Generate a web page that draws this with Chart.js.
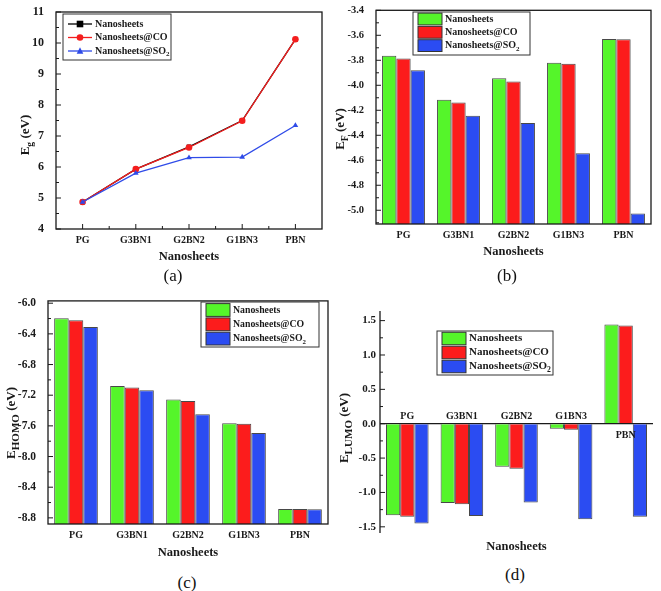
<!DOCTYPE html>
<html>
<head>
<meta charset="utf-8">
<script src="https://cdn.jsdelivr.net/npm/chart.js@4.4.1/dist/chart.umd.min.js"></script>
<style>
  body { margin: 0; background: #fff; width: 661px; height: 591px; position: relative; overflow: hidden; }
  .panel { position: absolute; }
  .cap { position: absolute; font: 17px "Liberation Serif", serif; color: #111; transform: translate(-50%, -50%); }
</style>
</head>
<body>
<div class="panel" style="left:0;top:0;width:330px;height:268px"><canvas id="chartA"></canvas></div>
<div class="panel" style="left:330px;top:0;width:331px;height:268px"><canvas id="chartB"></canvas></div>
<div class="panel" style="left:0;top:290px;width:330px;height:280px"><canvas id="chartC"></canvas></div>
<div class="panel" style="left:330px;top:290px;width:331px;height:270px"><canvas id="chartD"></canvas></div>
<div class="cap" style="left:173px;top:276px">(a)</div>
<div class="cap" style="left:507px;top:276px">(b)</div>
<div class="cap" style="left:187px;top:583px">(c)</div>
<div class="cap" style="left:515px;top:575px">(d)</div>

<script>
// ---- data ----
const categories = ['PG', 'G3BN1', 'G2BN2', 'G1BN3', 'PBN'];
const seriesNames = ['Nanosheets', 'Nanosheets@CO', 'Nanosheets@SO_{2}'];

// (a) band gap
const egPure = [4.87, 5.93, 6.65, 7.50, 10.12];
const egCO   = [4.87, 5.93, 6.63, 7.49, 10.12];
const egSO2  = [4.87, 5.80, 6.30, 6.32, 7.34];
const egTicks = [4, 5, 6, 7, 8, 9, 10, 11];
const egRange = [4, 11];

// (b) Fermi level
const efPure = [-3.764, -4.115, -3.943, -3.820, -3.629];
const efCO   = [-3.786, -4.137, -3.969, -3.828, -3.631];
const efSO2  = [-3.879, -4.243, -4.302, -4.544, -5.025];
const efTicks = [-5.0, -4.8, -4.6, -4.4, -4.2, -4.0, -3.8, -3.6, -3.4];
const efRange = [-5.11, -3.4];

// (c) HOMO
const homoPure = [-6.196, -7.081, -7.255, -7.566, -8.685];
const homoCO   = [-6.221, -7.098, -7.277, -7.574, -8.685];
const homoSO2  = [-6.311, -7.136, -7.447, -7.694, -8.689];
const homoTicks = [-8.8, -8.4, -8.0, -7.6, -7.2, -6.8, -6.4, -6.0];
const homoRange = [-8.88, -5.97];

// (d) LUMO
const lumoPure = [-1.332, -1.153, -0.625, -0.073, 1.444];
const lumoCO   = [-1.352, -1.172, -0.654, -0.087, 1.429];
const lumoSO2  = [-1.453, -1.342, -1.148, -1.390, -1.352];
const lumoTicks = [-1.5, -1.0, -0.5, 0.0, 0.5, 1.0, 1.5];
const lumoRange = [-1.59, 1.64];

const FONT = '"Liberation Serif", "Times New Roman", serif';
const barColors = ['#55f52a', '#fc1c1c', '#2b4cf2'];
const lineColors = ['#000000', '#f41e1e', '#2f4be8'];
const INK = '#1a1a1a';

// text with _{sub} parts
function richParts(str) {
    const parts = []; const re = /_\{([^}]*)\}/g; let last = 0, m;
    while ((m = re.exec(str))) {
        if (m.index > last) parts.push([str.slice(last, m.index), false]);
        parts.push([m[1], true]);
        last = re.lastIndex;
    }
    if (last < str.length) parts.push([str.slice(last), false]);
    return parts;
}
function drawRich(ctx, str, x, y, size, sub, center) {
    const parts = richParts(str);
    const fonts = parts.map(p => `bold ${p[1] ? size * sub : size}px ${FONT}`);
    let w = 0;
    parts.forEach((p, i) => { ctx.font = fonts[i]; w += ctx.measureText(p[0]).width; });
    let cx = center ? x - w / 2 : x;
    ctx.textBaseline = 'middle'; ctx.textAlign = 'left'; ctx.fillStyle = INK;
    parts.forEach((p, i) => {
        ctx.font = fonts[i];
        ctx.fillText(p[0], cx, y + (p[1] ? size * 0.32 : 0));
        cx += ctx.measureText(p[0]).width;
    });
}

// Origin-like frame, inward ticks, titles and in-plot legend
function decor(cfg) {
    return {
        id: 'decor',
        afterDraw(chart) {
            const ctx = chart.ctx, a = chart.chartArea, ys = chart.scales.y, xs = chart.scales.x;
            ctx.save();
            ctx.strokeStyle = INK; ctx.lineWidth = 1.3;
            const seg = (x1, y1, x2, y2) => { ctx.beginPath(); ctx.moveTo(x1, y1); ctx.lineTo(x2, y2); ctx.stroke(); };
            if (cfg.box) ctx.strokeRect(a.left, a.top, a.right - a.left, a.bottom - a.top);
            else seg(a.left, a.top, a.left, a.bottom);

            // y ticks (major + minor), pointing into the plot
            ctx.lineWidth = 1;
            const tv = ys.ticks.map(t => t.value);
            const step = tv[1] - tv[0];
            tv.forEach(v => { const p = ys.getPixelForValue(v); seg(a.left, p, a.left + 5, p); });
            for (let v = tv[0] - step / 2; v <= ys.max + 1e-9; v += step) {
                if (v < ys.min) continue;
                const p = ys.getPixelForValue(v); seg(a.left, p, a.left + 3, p);
            }
            if (cfg.xTicks) {
                categories.forEach((c, i) => {
                    const p = xs.getPixelForValue(i); seg(p, a.bottom, p, a.bottom - 5);
                    if (i < categories.length - 1) {
                        const q = xs.getPixelForValue(i + 0.5); seg(q, a.bottom, q, a.bottom - 3);
                    }
                });
            }

            // category labels sitting on the zero line (panel d)
            if (cfg.zeroLabels) {
                const z = ys.getPixelForValue(0);
                ctx.font = `bold ${cfg.catSize}px ${FONT}`;
                ctx.textAlign = 'center'; ctx.textBaseline = 'middle'; ctx.fillStyle = INK;
                categories.forEach((c, i) => {
                    const up = cfg.zeroLabels[i] < 0;
                    ctx.fillText(c, xs.getPixelForValue(i), up ? z - 7 : z + 12);
                });
            }

            // axis titles
            drawRich(ctx, 'Nanosheets', (a.left + a.right) / 2, cfg.xTitleY, 12.5, 1, true);
            ctx.save();
            ctx.translate(cfg.yTitle.x, cfg.yTitle.y);
            ctx.rotate(-Math.PI / 2);
            drawRich(ctx, cfg.yTitle.text, 0, 0, 13, cfg.yTitle.sub, true);
            ctx.restore();

            // legend
            const L = cfg.legend;
            ctx.fillStyle = '#fff';
            ctx.fillRect(L.x, L.y, L.w, L.h);
            ctx.strokeStyle = '#333'; ctx.lineWidth = 1;
            ctx.strokeRect(L.x, L.y, L.w, L.h);
            chart.data.datasets.forEach((ds, i) => {
                const ry = L.row0 + i * L.step;
                const sx = L.x + 5, sw = 24;
                if (L.kind === 'line') {
                    ctx.strokeStyle = ds.borderColor; ctx.lineWidth = 1.3;
                    seg(sx, ry, sx + sw, ry);
                    ctx.fillStyle = ds.borderColor;
                    const mx = sx + sw / 2, r = 3.3;
                    ctx.beginPath();
                    if (ds.pointStyle === 'rect') ctx.rect(mx - r, ry - r, 2 * r, 2 * r);
                    else if (ds.pointStyle === 'triangle') { ctx.moveTo(mx, ry - r - 0.5); ctx.lineTo(mx + r, ry + r - 0.5); ctx.lineTo(mx - r, ry + r - 0.5); ctx.closePath(); }
                    else ctx.arc(mx, ry, r, 0, Math.PI * 2);
                    ctx.fill();
                } else {
                    const sh = L.step - 1.5;
                    ctx.fillStyle = ds.backgroundColor;
                    ctx.fillRect(sx, ry - sh / 2, sw, sh);
                    ctx.strokeStyle = '#333'; ctx.lineWidth = 1;
                    ctx.strokeRect(sx, ry - sh / 2, sw, sh);
                }
                drawRich(ctx, ds.label, sx + sw + 3, ry, L.size, 0.7, false);
            });
            ctx.restore();
        }
    };
}

function yAxis(range, ticks, width, size, digits, grid) {
    return {
        type: 'linear', min: range[0], max: range[1],
        afterBuildTicks: s => { s.ticks = ticks.map(v => ({ value: v })); },
        afterFit: s => { s.width = width; },
        border: { display: false },
        grid: grid || { display: false },
        ticks: {
            padding: 4, color: INK,
            font: { family: FONT, size: size, weight: 'bold' },
            callback: v => v.toFixed(digits)
        }
    };
}
function xAxis(height, showTicks) {
    return {
        type: 'category', offset: true,
        afterFit: s => { s.height = height; },
        border: { display: false },
        grid: { display: false, drawTicks: false },
        ticks: {
            display: showTicks, padding: 5, color: INK, autoSkip: false, maxRotation: 0,
            font: { family: FONT, size: 10, weight: 'bold' }
        }
    };
}
function barSets(a, b, c, base) {
    return [a, b, c].map((d, i) => ({
        label: seriesNames[i], data: d,
        backgroundColor: barColors[i], borderColor: 'rgba(40,40,40,0.85)', borderWidth: 1,
        base: base, categoryPercentage: 0.78, barPercentage: 1.0
    }));
}
const common = { responsive: true, maintainAspectRatio: false, animation: false,
                 plugins: { legend: { display: false }, tooltip: { enabled: false } } };

// ===== (a) band gap lines =====
new Chart(document.getElementById('chartA'), {
    type: 'line',
    data: {
        labels: categories,
        datasets: [egPure, egCO, egSO2].map((d, i) => ({
            label: seriesNames[i], data: d,
            borderColor: lineColors[i], backgroundColor: lineColors[i],
            borderWidth: 1.3, pointRadius: 3.3, pointBorderWidth: 0,
            pointStyle: ['rect', 'circle', 'triangle'][i],
            order: 3 - i, tension: 0
        }))
    },
    options: Object.assign({}, common, {
        layout: { padding: { left: 0, right: 8, top: 12, bottom: 0 } },
        scales: { x: xAxis(39, true), y: yAxis(egRange, egTicks, 56, 12, 0) }
    }),
    plugins: [decor({
        box: true, xTicks: true, xTitleY: 257,
        yTitle: { text: 'E_{g} (eV)', x: 26, y: 135, sub: 0.75 },
        legend: { kind: 'line', x: 63, y: 14, w: 108, h: 46, row0: 24, step: 13.5, size: 10 }
    })]
});

// ===== (b) Fermi level bars =====
new Chart(document.getElementById('chartB'), {
    type: 'bar',
    data: { labels: categories, datasets: barSets(efPure, efCO, efSO2, efRange[0]) },
    options: Object.assign({}, common, {
        layout: { padding: { left: 0, right: 10, top: 9, bottom: 0 } },
        scales: { x: xAxis(44, true), y: yAxis(efRange, efTicks, 46, 10.5, 1) }
    }),
    plugins: [decor({
        box: true, xTitleY: 252,
        yTitle: { text: 'E_{F} (eV)', x: 11, y: 129, sub: 0.75 },
        legend: { kind: 'bar', x: 83, y: 12, w: 117, h: 43, row0: 19, step: 13.3, size: 10 }
    })]
});

// ===== (c) HOMO bars =====
new Chart(document.getElementById('chartC'), {
    type: 'bar',
    data: { labels: categories, datasets: barSets(homoPure, homoCO, homoSO2, homoRange[0]) },
    options: Object.assign({}, common, {
        layout: { padding: { left: 0, right: 2, top: 7, bottom: 0 } },
        scales: { x: xAxis(46, true), y: yAxis(homoRange, homoTicks, 48, 11.5, 1) }
    }),
    plugins: [decor({
        box: true, xTitleY: 263,
        yTitle: { text: 'E_{HOMO} (eV)', x: 12, y: 133, sub: 0.85 },
        legend: { kind: 'bar', x: 201, y: 12, w: 118, h: 45, row0: 20, step: 14.3, size: 9.8 }
    })]
});

// ===== (d) LUMO bars =====
new Chart(document.getElementById('chartD'), {
    type: 'bar',
    data: { labels: categories, datasets: barSets(lumoPure, lumoCO, lumoSO2, 0) },
    options: Object.assign({}, common, {
        layout: { padding: { left: 0, right: 8, top: 21, bottom: 0 } },
        scales: {
            x: xAxis(27, false),
            y: yAxis(lumoRange, lumoTicks, 50, 11, 1, {
                drawTicks: false, lineWidth: 1.3,
                color: c => (c.tick && c.tick.value === 0 ? INK : 'rgba(0,0,0,0)')
            })
        }
    }),
    plugins: [decor({
        box: false, xTitleY: 257, zeroLabels: lumoPure, catSize: 10,
        yTitle: { text: 'E_{LUMO} (eV)', x: 15, y: 138, sub: 0.85 },
        legend: { kind: 'bar', x: 107, y: 41, w: 116, h: 44, row0: 48.5, step: 14, size: 11 }
    })]
});
</script>
</body>
</html>
